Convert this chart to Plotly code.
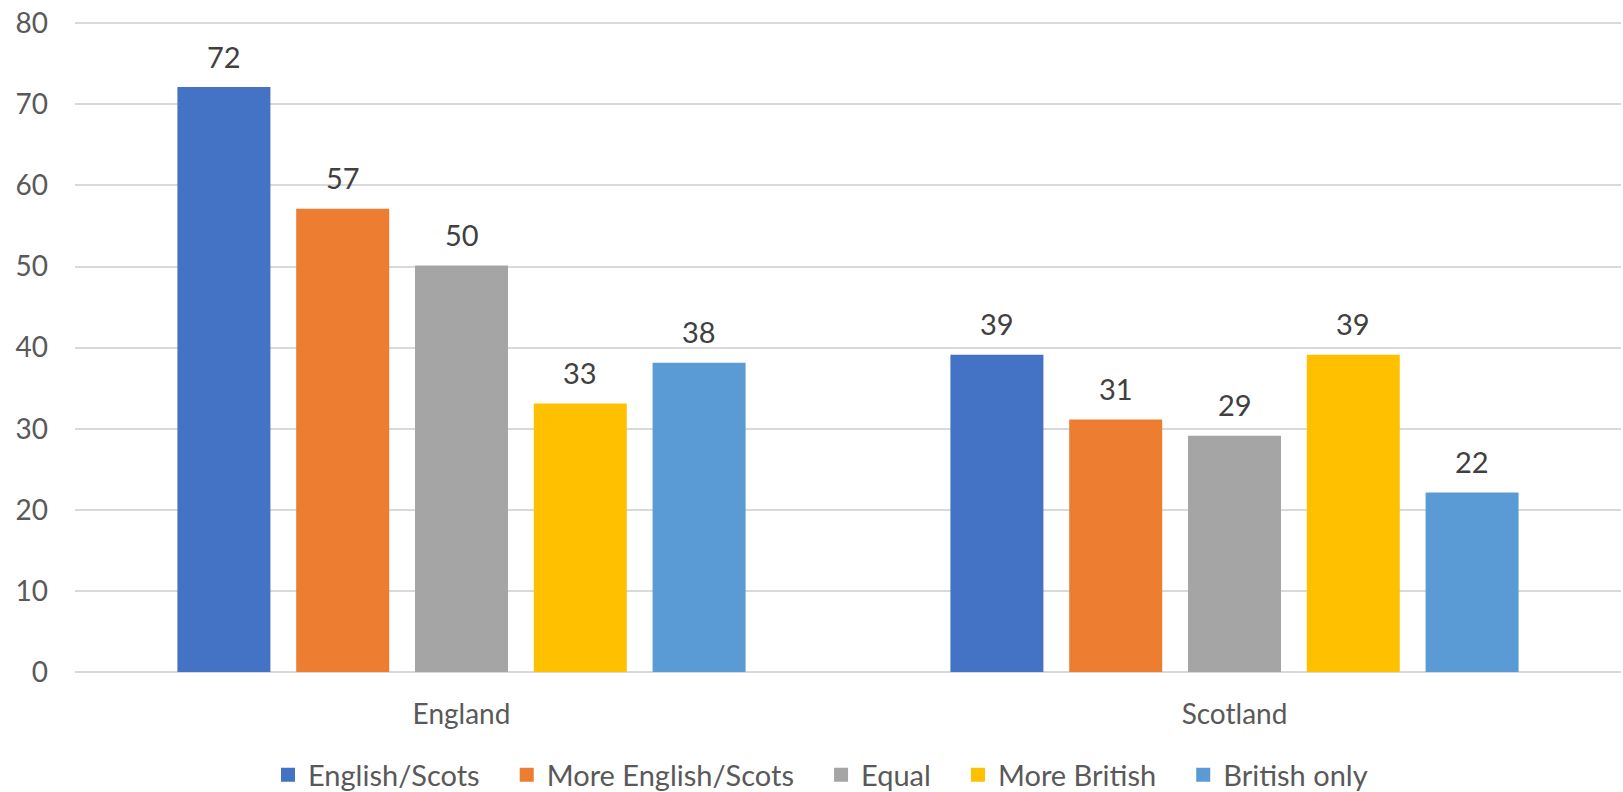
import plotly.graph_objects as go

categories = ["England", "Scotland"]
series_names = ["English/Scots", "More English/Scots", "Equal", "More British", "British only"]
series_values = [
    [72, 39],
    [57, 31],
    [50, 29],
    [33, 39],
    [38, 22],
]
colors = ["#4472C4", "#ED7D31", "#A5A5A5", "#FFC000", "#5B9BD5"]
y_ticks = [0, 10, 20, 30, 40, 50, 60, 70, 80]

W, H = 1623, 792
ML, MR, MT, MB = 75, 2, 22, 120
BARGAP = 0.2316
BARGROUPGAP = 0.234
FONT = "Lato, Carlito, Calibri, 'Open Sans', sans-serif"

fig = go.Figure()
for name, vals, col in zip(series_names, series_values, colors):
    fig.add_trace(go.Bar(
        x=categories, y=vals, name=name + "\u00a0\u00a0\u2009\u2009",
        marker=dict(color=col, line=dict(width=2, color=col)),
        hoverinfo="skip",
    ))

# data labels above bars
plot_w = W - ML - MR
cat_w = plot_w / len(categories)
slot = cat_w * (1 - BARGAP) / len(series_names)
n = len(series_names)
for i, vals in enumerate(series_values):
    for c, v in zip(categories, vals):
        fig.add_annotation(
            x=c, y=v, text=str(v), showarrow=False,
            xshift=(i - (n - 1) / 2) * slot, yshift=32,
            yanchor="middle", xanchor="center",
            font=dict(family=FONT, size=29, color="#404040"),
        )

fig.update_layout(
    template="none",
    width=W, height=H,
    margin=dict(l=ML, r=MR, t=MT, b=MB, autoexpand=False),
    paper_bgcolor="white", plot_bgcolor="white",
    barmode="group", bargap=BARGAP, bargroupgap=BARGROUPGAP,
    font=dict(family=FONT, size=28, color="#595959"),
    showlegend=True,
    legend=dict(
        orientation="h", xref="container", yref="container",
        x=268 / W, xanchor="left",
        y=1 - 775 / H, yanchor="middle",
        font=dict(family=FONT, size=29, color="#595959"),
        bgcolor="rgba(0,0,0,0)",
    ),
    xaxis=dict(
        automargin=False,
        showgrid=False, showline=False, ticks="",
        tickfont=dict(family=FONT, size=28, color="#595959"),
        ticklabelstandoff=23,
        ticklabeloverflow="allow",
    ),
    yaxis=dict(
        automargin=False,
        range=[0, 80.15], tickvals=y_ticks,
        showgrid=True, gridcolor="#D9D9D9", gridwidth=1.5,
        zeroline=True, zerolinecolor="#D9D9D9", zerolinewidth=2,
        showline=False, ticks="",
        tickfont=dict(family=FONT, size=28, color="#595959"),
        ticklabelstandoff=26,
        ticklabeloverflow="allow",
    ),
)

fig.write_html(
    "out.html",
    config={"displayModeBar": False},
    post_script="document.body.style.margin='0';document.body.style.padding='0';",
)
